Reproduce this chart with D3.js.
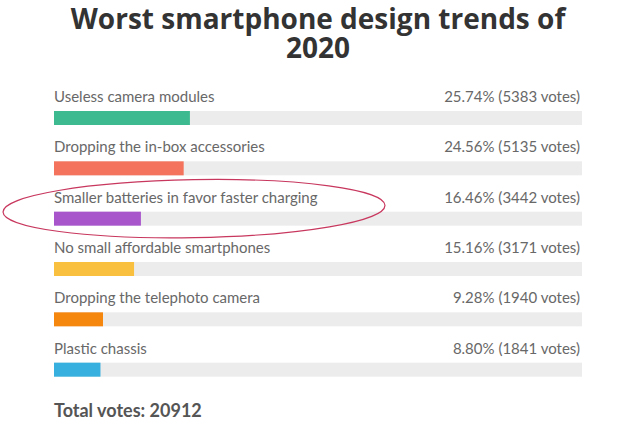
<!DOCTYPE html>
<html><head><meta charset="utf-8">
<script src="https://cdn.jsdelivr.net/npm/d3@7"></script>
<style>html,body{margin:0;padding:0;background:#fff;}svg{display:block;}</style>
</head><body>
<script>
const categories = ["Useless camera modules","Dropping the in-box accessories","Smaller batteries in favor faster charging","No small affordable smartphones","Dropping the telephoto camera","Plastic chassis"];
const percents = [25.74, 24.56, 16.46, 15.16, 9.28, 8.80];
const votes = [5383, 5135, 3442, 3171, 1940, 1841];
const colors = ["#3dba8f","#f4735c","#a855cc","#f9c03f","#f5870f","#37b0df"];
const totalVotes = 20912;
const titleLines = ["Worst smartphone design trends of","2020"];

const W = 640, H = 427;
const svg = d3.select("body").append("svg").attr("width", W).attr("height", H);

svg.selectAll("text.title").data(titleLines).join("text")
  .attr("class","title")
  .attr("x", 318).attr("y", (d,i) => 29 + i*29)
  .attr("text-anchor","middle")
  .attr("font-family","Open Sans, sans-serif").attr("font-weight","bold")
  .attr("font-size", 28).attr("fill","#333")
  .text(d => d);

const x = d3.scaleLinear().domain([0,100]).range([54, 582]);
const y = d3.scaleBand().domain(categories).range([80, 382]).paddingInner(0).paddingOuter(0);

const g = svg.selectAll("g.row").data(categories).join("g").attr("class","row")
  .attr("transform", d => `translate(0,${y(d)})`);

g.append("text").attr("x", 54).attr("y", 22)
  .attr("font-family","Lato, sans-serif").attr("font-size", 15).attr("fill","#686868")
  .text(d => d);
g.append("text").attr("x", 580).attr("y", 22).attr("text-anchor","end")
  .attr("font-family","Lato, sans-serif").attr("font-size", 15).attr("fill","#686868")
  .text((d,i) => `${percents[i].toFixed(2)}% (${votes[i]} votes)`);
g.append("rect").attr("x", x(0)).attr("y", 31).attr("width", x(100)-x(0)).attr("height", 14).attr("fill","#ececec");
g.append("rect").attr("x", x(0)).attr("y", 31).attr("width", (d,i) => x(percents[i]) - x(0)).attr("height", 14)
  .attr("fill", (d,i) => colors[i]);

svg.append("text").attr("x", 54).attr("y", 417)
  .attr("font-family","Lato, sans-serif").attr("font-weight","bold").attr("font-size", 18).attr("fill","#555")
  .text(`Total votes: ${totalVotes}`);

// highlight ellipse around third row
const hy = y(categories[2]) + 28;
svg.append("ellipse").attr("cx", 194).attr("cy", hy).attr("rx", 191).attr("ry", 29)
  .attr("transform", `rotate(-1,194,${hy})`)
  .attr("fill","none").attr("stroke","#c8375e").attr("stroke-width", 1.2);
</script>
</body></html>
